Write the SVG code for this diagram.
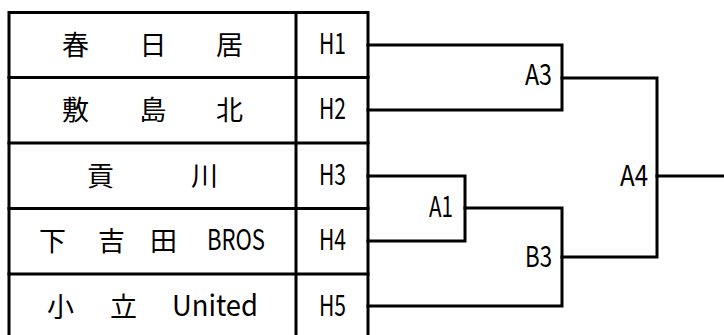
<svg xmlns="http://www.w3.org/2000/svg" width="724" height="335" viewBox="0 0 724 335">
  <style>
    .ln { stroke: #000; stroke-width: 3; fill: none; stroke-linecap: square; }
    .t { font-family: "Noto Sans CJK JP", "Liberation Sans", sans-serif; font-size: 27px; fill: #000; }
    .l { font-family: "Noto Sans CJK JP", "Liberation Sans", sans-serif; font-size: 29px; fill: #000; }
    .c { text-anchor: middle; }
  </style>
  <rect x="0" y="0" width="724" height="335" fill="#fff"/>
  <g id="table">
    <path class="ln" d="M9,12.5 H368 M9,12.5 V340 M296,12.5 V340 M368,12.5 V340"/>
    <path class="ln" d="M9,77.5 H368 M9,143 H368 M9,208.5 H368 M9,274 H368"/>
  </g>
  <g id="team-h1">
    <text class="t c" x="75.5" y="55">春</text>
    <text class="t c" x="153" y="55">日</text>
    <text class="t c" x="229.5" y="55">居</text>
    <text class="l" x="319" y="54" textLength="27" lengthAdjust="spacingAndGlyphs">H1</text>
  </g>
  <g id="team-h2">
    <text class="t c" x="75.5" y="120">敷</text>
    <text class="t c" x="153" y="120">島</text>
    <text class="t c" x="229.5" y="120">北</text>
    <text class="l" x="319" y="119" textLength="27" lengthAdjust="spacingAndGlyphs">H2</text>
  </g>
  <g id="team-h3">
    <text class="t c" x="100.5" y="186">貢</text>
    <text class="t c" x="204.5" y="186">川</text>
    <text class="l" x="319" y="185" textLength="27" lengthAdjust="spacingAndGlyphs">H3</text>
  </g>
  <g id="team-h4">
    <text class="t c" x="52.5" y="251">下</text>
    <text class="t c" x="111.5" y="251">吉</text>
    <text class="t c" x="163.5" y="251">田</text>
    <text class="l" x="207" y="250" textLength="58" lengthAdjust="spacingAndGlyphs">BROS</text>
    <text class="l" x="319" y="250" textLength="27" lengthAdjust="spacingAndGlyphs">H4</text>
  </g>
  <g id="team-h5">
    <text class="t c" x="60.5" y="317">小</text>
    <text class="t c" x="123.5" y="317">立</text>
    <text class="l" x="172" y="316" textLength="86" lengthAdjust="spacingAndGlyphs">United</text>
    <text class="l" x="319" y="316" textLength="27" lengthAdjust="spacingAndGlyphs">H5</text>
  </g>
  <g id="connectors">
    <path class="ln" d="M368,45 H562 V110 H368"/>
    <path class="ln" d="M368,176 H465 V241 H368"/>
    <path class="ln" d="M465,208 H562 V306 H368"/>
    <path class="ln" d="M562,78 H657 V257 H562"/>
    <path class="ln" d="M657,176 H726"/>
  </g>
  <g id="match-a3">
    <text class="l" x="525" y="85" textLength="27" lengthAdjust="spacingAndGlyphs">A3</text>
  </g>
  <g id="match-a1">
    <text class="l" x="429" y="217" textLength="24" lengthAdjust="spacingAndGlyphs">A1</text>
  </g>
  <g id="match-b3">
    <text class="l" x="525" y="267" textLength="27" lengthAdjust="spacingAndGlyphs">B3</text>
  </g>
  <g id="match-a4">
    <text class="l" x="620" y="186" textLength="28" lengthAdjust="spacingAndGlyphs">A4</text>
  </g>
</svg>
